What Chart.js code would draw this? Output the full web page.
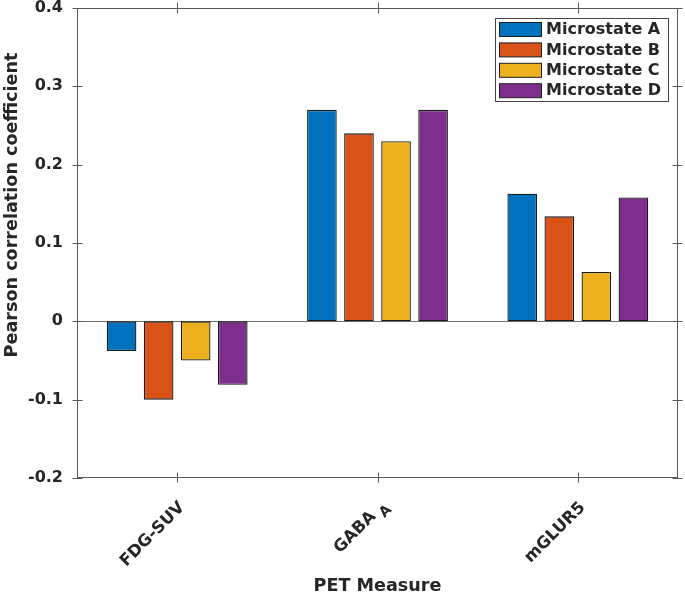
<!DOCTYPE html>
<html>
<head>
<meta charset="utf-8">
<script src="https://cdn.jsdelivr.net/npm/chart.js@4/dist/chart.umd.min.js"></script>
<style>
  html, body { margin: 0; padding: 0; background: #fff; }
  #wrap { width: 685px; height: 595px; }
</style>
</head>
<body>
<div id="wrap"><canvas id="petChart" width="685" height="595"></canvas></div>
<script>
// categories (an underscore marks a subscript, e.g. GABA_A)
const categories = ['FDG-SUV', 'GABA_A', 'mGLUR5'];
const seriesNames = ['Microstate A', 'Microstate B', 'Microstate C', 'Microstate D'];
const microstateA = [-0.038, 0.270, 0.163];
const microstateB = [-0.100, 0.240, 0.134];
const microstateC = [-0.050, 0.230, 0.063];
const microstateD = [-0.081, 0.270, 0.158];
const yMin = -0.2, yMax = 0.4, yStep = 0.1;
const xTitle = 'PET Measure';
const yTitle = 'Pearson correlation coefficient';

const colors = ['#0072BD', '#D95319', '#EDB120', '#7E2F8E'];
const axisColor = '#5a5a5a';
const textColor = '#262626';
const fontFamily = '"DejaVu Sans", sans-serif';

const seriesValues = [microstateA, microstateB, microstateC, microstateD];

const data = {
    labels: categories,
    datasets: seriesNames.map((name, i) => ({
        label: name,
        data: seriesValues[i],
        backgroundColor: colors[i],
        borderColor: '#1a1a1a',
        borderWidth: 1.3,
        borderSkipped: false,
        categoryPercentage: 0.74,
        barPercentage: 0.8
    }))
};

// draws the box, crossing ticks, zero baseline, rotated tick labels, titles and legend
const matlabLook = {
    id: 'matlabLook',
    beforeDatasetsDraw(chart) {
        const { ctx, chartArea: a, scales: { y } } = chart;
        const y0 = Math.round(y.getPixelForValue(0)) + 0.5;
        ctx.save();
        ctx.strokeStyle = '#6e6e6e';
        ctx.lineWidth = 1;
        ctx.beginPath();
        ctx.moveTo(a.left, y0);
        ctx.lineTo(a.right, y0);
        ctx.stroke();
        ctx.restore();
    },
    afterDraw(chart) {
        const { ctx, chartArea: a, scales: { x, y } } = chart;
        ctx.save();
        ctx.strokeStyle = axisColor;
        ctx.lineWidth = 1;
        const L = Math.round(a.left) + 0.5, R = Math.round(a.right) - 0.5;
        const T = Math.round(a.top) + 0.5, B = Math.round(a.bottom) - 0.5;
        ctx.strokeRect(L, T, R - L, B - T);

        ctx.beginPath();
        y.ticks.forEach((t, i) => {
            const py = Math.round(y.getPixelForTick(i)) + 0.5;
            ctx.moveTo(L - 5, py); ctx.lineTo(L + 5, py);
            ctx.moveTo(R - 5, py); ctx.lineTo(R + 5, py);
        });
        x.ticks.forEach((t, i) => {
            const px = Math.round(x.getPixelForTick(i)) + 0.5;
            ctx.moveTo(px, B - 5); ctx.lineTo(px, B + 5);
            ctx.moveTo(px, T - 6); ctx.lineTo(px, T + 5);
        });
        ctx.stroke();

        // rotated category labels
        ctx.fillStyle = textColor;
        categories.forEach((label, i) => {
            const [main, sub] = label.split('_');
            const px = x.getPixelForTick(i) + 5;
            const py = a.bottom + 27;
            ctx.save();
            ctx.translate(px, py);
            ctx.rotate(-Math.PI / 4);
            ctx.textBaseline = 'middle';
            ctx.textAlign = 'right';
            if (sub) {
                ctx.font = 'bold 14px ' + fontFamily;
                const sw = ctx.measureText(sub).width;
                ctx.fillText(sub, 3, 7);
                ctx.font = 'bold 16.5px ' + fontFamily;
                ctx.fillText(main, -sw - 2, 0);
            } else {
                ctx.font = 'bold 16.5px ' + fontFamily;
                ctx.fillText(main, 0, 0);
            }
            ctx.restore();
        });

        // axis titles
        ctx.font = 'bold 17.6px ' + fontFamily;
        ctx.textAlign = 'center';
        ctx.textBaseline = 'middle';
        ctx.fillText(xTitle, (a.left + a.right) / 2, 586);
        ctx.save();
        ctx.translate(12, 205);
        ctx.rotate(-Math.PI / 2);
        ctx.fillText(yTitle, 0, 0);
        ctx.restore();

        // legend box
        const lx = 495.5, ly = 18.5, lw = 173, lh = 83;
        ctx.fillStyle = '#fff';
        ctx.fillRect(lx, ly, lw, lh);
        ctx.strokeStyle = '#444';
        ctx.strokeRect(lx, ly, lw, lh);
        ctx.font = 'bold 16px ' + fontFamily;
        ctx.textAlign = 'left';
        chart.data.datasets.forEach((ds, i) => {
            const ry = 22 + i * 20.4;
            ctx.fillStyle = ds.backgroundColor;
            ctx.fillRect(499.5, ry + 0.5, 42, 14);
            ctx.strokeStyle = '#1e1e1e';
            ctx.strokeRect(499.5, ry + 0.5, 42, 14);
            ctx.fillStyle = textColor;
            ctx.fillText(ds.label, 546, ry + 8);
        });
        ctx.restore();
    }
};

const config = {
    type: 'bar',
    data: data,
    options: {
        responsive: false,
        animation: false,
        layout: { padding: { left: 0, top: 8, right: 7, bottom: 0 } },
        plugins: {
            legend: { display: false },
            tooltip: { enabled: false }
        },
        scales: {
            x: {
                offset: true,
                grid: { display: false, offset: false },
                border: { display: false },
                ticks: { display: false },
                afterFit(scale) {
                    scale.height = 117;
                    scale.paddingLeft = 0; scale.paddingRight = 0;
                }
            },
            y: {
                min: yMin,
                max: yMax,
                grid: { display: false, drawTicks: false },
                border: { display: false },
                ticks: {
                    stepSize: yStep,
                    padding: 14,
                    color: textColor,
                    font: { family: fontFamily, size: 16, weight: 'bold' },
                    callback: v => Math.abs(v) < 1e-9 ? '0' : v.toFixed(1)
                },
                afterFit(scale) {
                    scale.width = 77;
                    scale.paddingTop = 0; scale.paddingBottom = 0;
                }
            }
        }
    },
    plugins: [matlabLook]
};

const petChart = new Chart(document.getElementById('petChart'), config);
</script>
</body>
</html>
